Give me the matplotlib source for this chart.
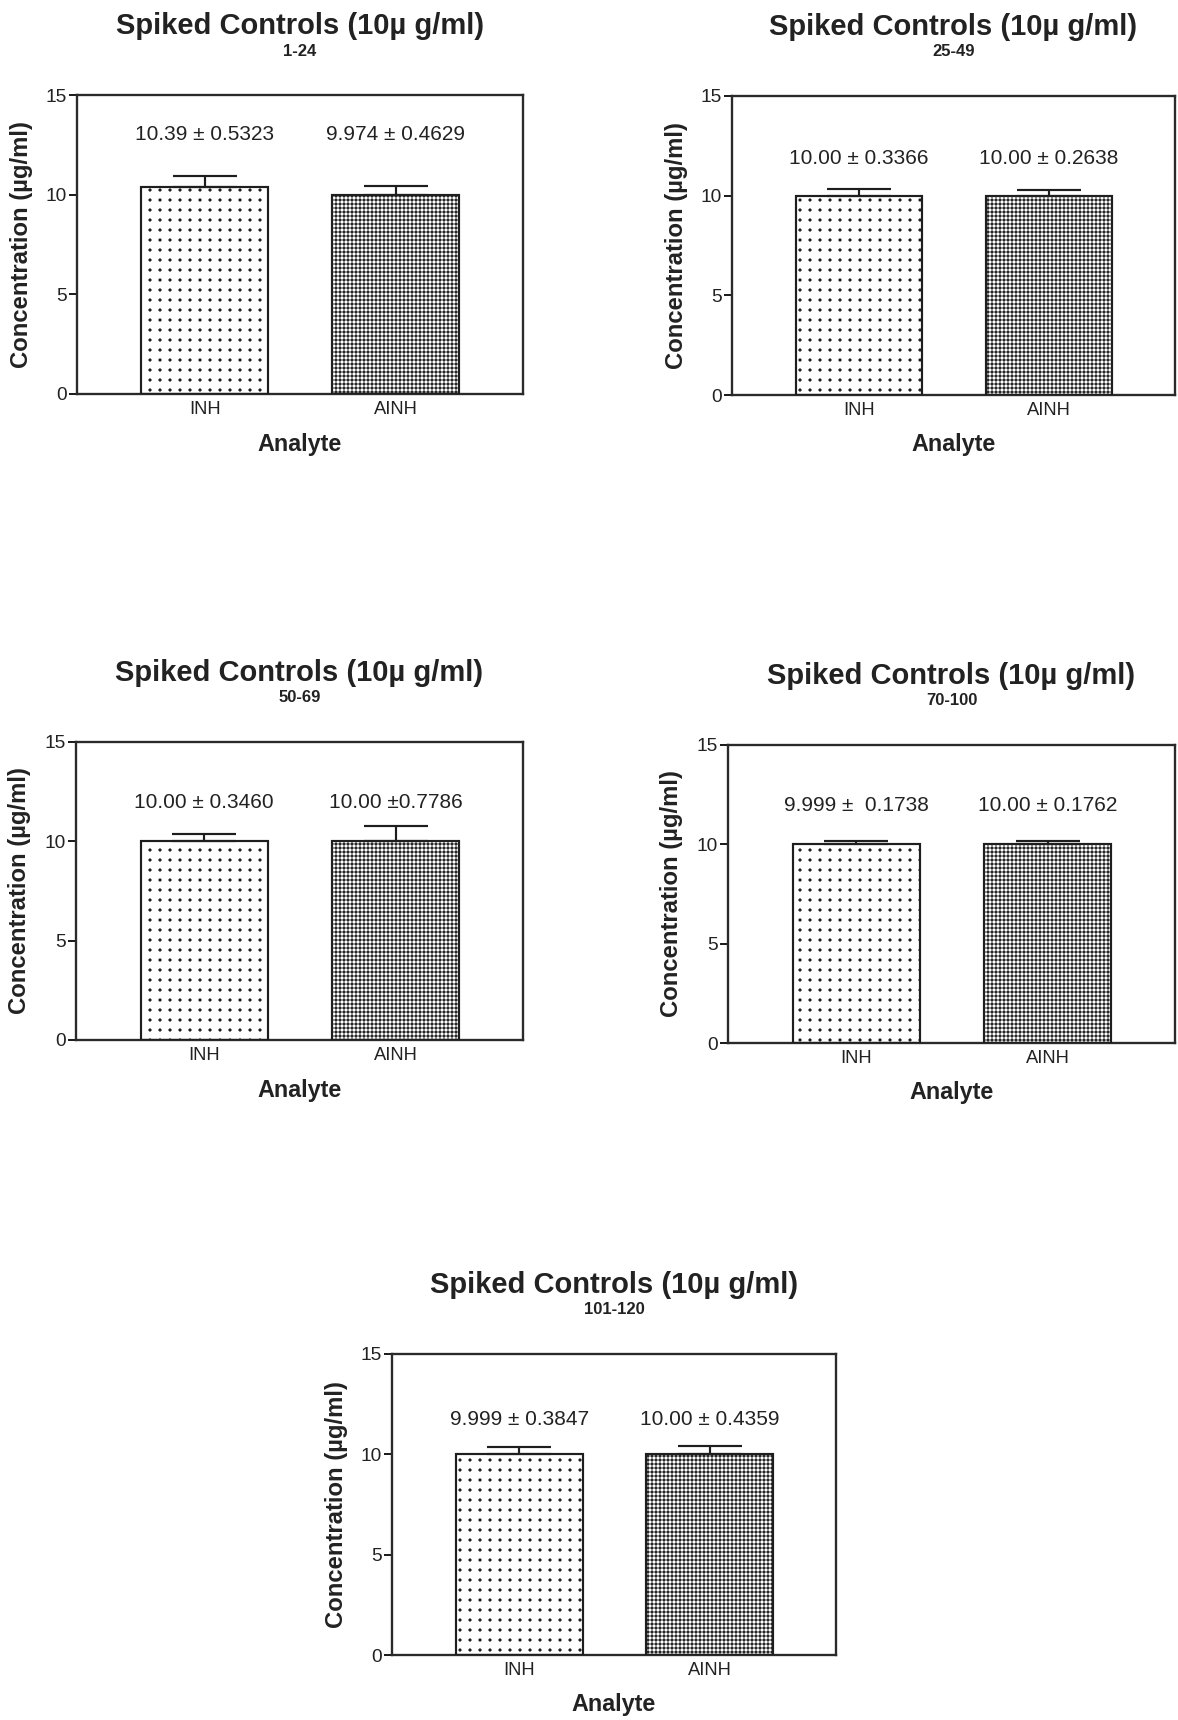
import numpy as np
import matplotlib
matplotlib.use('Agg')
import matplotlib.pyplot as plt

plt.rcParams['font.family'] = ['Liberation Sans', 'DejaVu Sans']

# data (mean +/- SD, ug/ml)
analytes = ['INH', 'AINH']
subtitles = ['1-24', '25-49', '50-69', '70-100', '101-120']
inh_mean = [10.39, 10.00, 10.00, 9.999, 9.999]
inh_sd = [0.5323, 0.3366, 0.3460, 0.1738, 0.3847]
ainh_mean = [9.974, 10.00, 10.00, 10.00, 10.00]
ainh_sd = [0.4629, 0.2638, 0.7786, 0.1762, 0.4359]
inh_text = ['10.39 \u00b1 0.5323', '10.00 \u00b1 0.3366', '10.00 \u00b1 0.3460',
            '9.999 \u00b1  0.1738', '9.999 \u00b1 0.3847']
ainh_text = ['9.974 \u00b1 0.4629', '10.00 \u00b1 0.2638', '10.00 \u00b10.7786',
             '10.00 \u00b1 0.1762', '10.00 \u00b1 0.4359']
yticks = [0, 5, 10, 15]

# layout (pixels): left, right, top, bottom of each plot box
W, H, DPI = 1178, 1720, 120
boxes = [(77, 523, 95, 394), (732, 1175, 96, 395),
         (76, 523, 742, 1040), (728, 1175, 745, 1043),
         (392, 836, 1354, 1655)]
label_y = [13.0, 11.85, 11.95, 11.95, 11.75]
BAR_W = 0.665
INK = '#1e1e1e'


def dotted_bar(ax, x, h, face, hatch, hlw):
    # dark face with white grid lines -> square dot texture
    with plt.rc_context({'hatch.linewidth': hlw}):
        bars = ax.bar(x, h, width=BAR_W, color=face, edgecolor='white',
                      hatch=hatch, linewidth=0, zorder=2)
    for b in bars:
        if hasattr(b, 'set_hatch_linewidth'):
            b.set_hatch_linewidth(hlw)
    ax.bar(x, h, width=BAR_W, fill=False, edgecolor=INK, linewidth=1.3, zorder=3)


def panel(i):
    l, r, t, b = boxes[i]
    ax = fig.add_axes([l / W, 1 - b / H, (r - l) / W, (b - t) / H])
    x = np.arange(len(analytes))
    means = [inh_mean[i], ainh_mean[i]]
    sds = [inh_sd[i], ainh_sd[i]]

    dotted_bar(ax, x[0], means[0], INK, '++', 4.2)
    dotted_bar(ax, x[1], means[1], '#262626', '+++++', 0.6)
    ax.errorbar(x, means, yerr=[[0, 0], sds], fmt='none', ecolor=INK,
                elinewidth=1.3, capsize=19, capthick=1.3, zorder=4)

    for xi, txt in zip(x, [inh_text[i], ainh_text[i]]):
        ax.text(xi, label_y[i], txt, ha='center', va='center', fontsize=12.5,
                color='#222222')

    ax.set_xlim(-0.67, 1.665)
    ax.set_ylim(0, 15)
    ax.set_yticks(yticks)
    ax.set_xticks(x)
    ax.set_xticklabels(analytes)
    ax.tick_params(axis='y', length=4.8, width=1.2, pad=1.2, labelsize=11.5,
                   color=INK, labelcolor='#222222')
    ax.tick_params(axis='x', length=0, pad=4, labelsize=11, labelcolor='#222222')
    for s in ax.spines.values():
        s.set_linewidth(1.4)
        s.set_color('#2a2a2a')

    wpx, hpx = r - l, b - t
    ax.text(-56 / wpx, 0.5, 'Concentration (\u00b5g/ml)', transform=ax.transAxes,
            rotation=90, ha='center', va='center', fontsize=14.3,
            fontweight='bold', color='#222222')
    ax.text(0.5, -50 / hpx, 'Analyte', transform=ax.transAxes, ha='center',
            va='center', fontsize=14, fontweight='bold', color='#222222')
    ax.text(0.5, 1 + 69 / hpx, 'Spiked Controls (10\u00b5 g/ml)', transform=ax.transAxes,
            ha='center', va='center', fontsize=17.5, fontweight='bold', color='#222222')
    ax.text(0.5, 1 + 44 / hpx, subtitles[i], transform=ax.transAxes, ha='center',
            va='center', fontsize=10, fontweight='bold', color='#222222')


fig = plt.figure(figsize=(W / DPI, H / DPI), dpi=DPI)
for i in range(len(subtitles)):
    panel(i)
fig.savefig('out.png', dpi=DPI, facecolor='white')
